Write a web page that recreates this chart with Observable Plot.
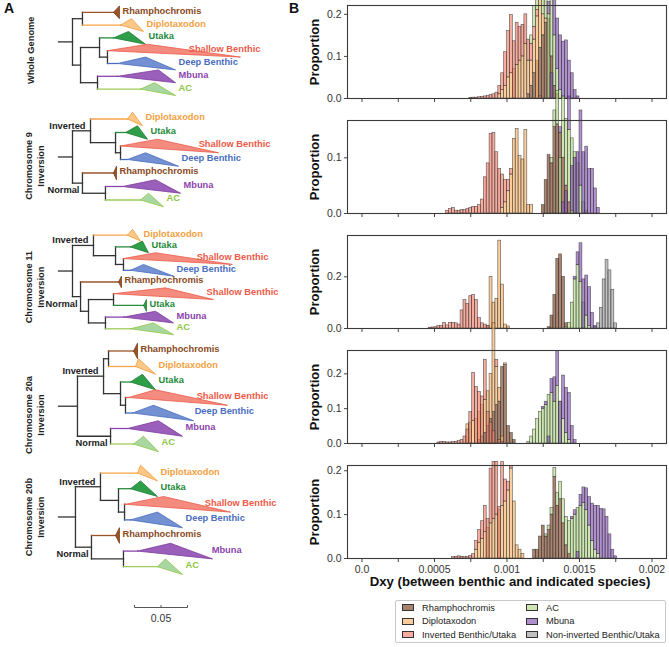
<!DOCTYPE html>
<html><head><meta charset="utf-8">
<script src="https://cdn.jsdelivr.net/npm/d3@7"></script>
<script src="https://cdn.jsdelivr.net/npm/@observablehq/plot@0.6"></script>
<style>
body{margin:0;background:#fff;}
#root{position:relative;width:669px;height:647px;overflow:hidden;background:#fff;font-family:'Liberation Sans',Arial,Helvetica,sans-serif;}
#root svg{max-width:none;overflow:visible;}
.legend{position:absolute;left:395px;top:600px;width:271px;height:43px;border:1px solid #c9c9c9;border-radius:2px;box-sizing:border-box;display:grid;grid-template-rows:repeat(3,13.5px);grid-auto-flow:column;grid-template-columns:124px 142px;padding:0 0 0 6px;font-size:9.3px;color:#222;}
.legend div{display:flex;align-items:center;white-space:nowrap;}
.legend span.sw{display:inline-block;width:10px;height:5px;border:1px solid #333;margin-right:8px;}
</style>
</head><body>
<div id="root"></div>
<script>
// ---------------- DATA ----------------
const SERIES = ["Rhamphochromis", "Diplotaxodon", "Inverted Benthic/Utaka", "AC", "Mbuna", "Non-inverted Benthic/Utaka"];
const SERIES_COLORS = ["#7b4526", "#f7b36b", "#f07f6c", "#b3d98a", "#8657b3", "#9f9f9f"];
const BIN = 0.00002;
const PANEL_NAMES = ["Whole Genome", "Chromosome 9\nInversion", "Chromosome 11\nInversion", "Chromosome 20a\nInversion", "Chromosome 20b\nInversion"];
const X_TICKS = [0, 0.00025, 0.0005, 0.00075, 0.001, 0.00125, 0.0015, 0.00175, 0.002];
const X_LABELS = [0, 0.0005, 0.001, 0.0015, 0.002];

// Histograms: first bin left edge + proportions per bin
const wgRham    = {from: 0.00114, p: [0.01,0.03,0.06,0.09,0.12,0.15,0.18,0.19,0.1,0.03,0.01]};
const wgDiplo   = {from: 0.00094, p: [0.01,0.02,0.03,0.05,0.06,0.07,0.08,0.09,0.1,0.13,0.08,0.06,0.08,0.195,0.19,0.05,0.01]};
const wgInv     = {from: 0.00074, p: [0.001,0.002,0.002,0.003,0.004,0.005,0.006,0.008,0.01,0.014,0.02,0.04,0.08,0.11,0.138,0.136,0.1,0.08,0.075,0.07,0.05,0.04,0.03,0.015,0.005]};
const wgAC      = {from: 0.00116, p: [0.02,0.05,0.08,0.1,0.13,0.16,0.2,0.21,0.12,0.06,0.02,0.005]};
const wgMbuna   = {from: 0.00126, p: [0.01,0.03,0.06,0.09,0.12,0.13,0.135,0.138,0.09,0.06,0.02,0.005]};

const c9Rham    = {from: 0.00124, p: [0.015,0.06,0.105,0.09,0.155,0.16,0.145,0.1,0.05,0.02,0.005]};
const c9Diplo   = {from: 0.00096, p: [0.01,0.02,0.04,0.07,0.134,0.152,0.103,0.097,0.15,0.015,0.015]};
const c9Inv     = {from: 0.00058, p: [0.005,0.008,0.01,0.005,0.005,0.006,0.006,0.008,0.01,0.012,0.012,0.015,0.025,0.065,0.09,0.143,0.145,0.11,0.08,0.06,0.04,0.02,0.01]};
const c9AC      = {from: 0.0013,  p: [0.01,0.03,0.06,0.1,0.11,0.12,0.13,0.135,0.11,0.09,0.05,0.02,0.005]};
const c9Mbuna   = {from: 0.00136, p: [0.01,0.02,0.04,0.06,0.08,0.1,0.11,0.135,0.11,0.12,0.08,0.08,0.045,0.01]};

const c11Rham   = {from: 0.00128, p: [0.005,0.05,0.13,0.27,0.287,0.2,0.02]};
const c11Diplo  = {from: 0.00086, p: [0.01,0.2,0.1,0.115,0.34,0.17,0.015,0.008]};
const c11Inv    = {from: 0.00046, p: [0.003,0.004,0.005,0.009,0.01,0.022,0.012,0.022,0.022,0.02,0.015,0.07,0.11,0.095,0.125,0.13,0.11,0.04,0.02,0.015,0.01]};
const c11AC     = {from: 0.0014,  p: [0.005,0.022,0.1,0.19,0.245,0.18,0.1,0.05,0.01]};
const c11Mbuna  = {from: 0.00146, p: [0.01,0.05,0.15,0.19,0.155,0.15,0.06,0.01]};
const c11NonInv = {from: 0.0016,  p: [0.005,0.02,0.08,0.19,0.265,0.225,0.15,0.02]};

const c20aRham  = {from: 0.0008,  p: [0.01,0.02,0.03,0.05,0.07,0.09,0.11,0.12,0.22,0.225,0.05,0.03,0.01]};
const c20aDiplo = {from: 0.00072, p: [0.055,0.06,0.065,0.07,0.08,0.09,0.095,0.1,0.13,0.255,0.11,0.04,0.02,0.005]};
const c20aInv   = {from: 0.00052, p: [0.003,0.005,0.004,0.003,0.003,0.004,0.005,0.007,0.01,0.02,0.04,0.09,0.138,0.162,0.148,0.135,0.115,0.09,0.06,0.035,0.02,0.01,0.005]};
const c20aAC    = {from: 0.00114, p: [0.005,0.02,0.04,0.07,0.09,0.1,0.11,0.14,0.145,0.12,0.165,0.12,0.07,0.03,0.01]};
const c20aMbuna = {from: 0.00124, p: [0.005,0.01,0.02,0.04,0.07,0.1,0.12,0.125,0.13,0.135,0.05,0.01]};

const c20bRham  = {from: 0.00118, p: [0.02,0.02,0.05,0.075,0.05,0.065,0.1,0.186,0.12,0.135,0.08,0.03,0.01]};
const c20bDiplo = {from: 0.00078, p: [0.02,0.035,0.045,0.06,0.07,0.08,0.09,0.1,0.11,0.12,0.13,0.155,0.205,0.13,0.03,0.02,0.01]};
const c20bInv   = {from: 0.00062, p: [0.003,0.004,0.005,0.004,0.003,0.004,0.006,0.01,0.02,0.03,0.04,0.06,0.09,0.125,0.13,0.12,0.117,0.1,0.05,0.02,0.005]};
const c20bAC    = {from: 0.00126, p: [0.005,0.01,0.015,0.02,0.03,0.04,0.055,0.065,0.075,0.09,0.1,0.115,0.12,0.127,0.11,0.075,0.04,0.02,0.01]};
const c20bMbuna = {from: 0.00144, p: [0.005,0.01,0.015,0.025,0.035,0.05,0.065,0.085,0.1,0.11,0.113,0.112,0.095,0.055,0.02,0.005]};

const Y_MAX   = [0.221, 0.167, 0.36, 0.267, 0.212];
const Y_TICKS = [[0, 0.1, 0.2], [0, 0.1], [0, 0.2], [0, 0.1, 0.2], [0, 0.1, 0.2]];

// Trees: internal node = [depth, children, label?]; collapsed clade = [name, apex depth, shortest tip depth, longest tip depth]
const treeWholeGenome = [0.0132, [
  [0.0226, [["Rhamphochromis", 0.0519, 0.0575, 0.0575], ["Diplotaxodon", 0.0585, 0.0689, 0.0802]]],
  [0.0208, [
    [0.0387, [["Utaka", 0.0519, 0.066, 0.0821],
              [0.0462, [["Shallow Benthic", 0.0462, 0.084, 0.1717], ["Deep Benthic", 0.0557, 0.0821, 0.1104]]]]],
    [0.0368, [["Mbuna", 0.0557, 0.0943, 0.1104], ["AC", 0.0774, 0.0906, 0.1104]]]
  ]]
]];
const treeChr9 = [0.0132, [
  [0.0302, [["Diplotaxodon", 0.0651, 0.0698, 0.0792],
            [0.0538, [["Utaka", 0.0632, 0.0745, 0.084],
                      [0.0585, [["Shallow Benthic", 0.0585, 0.0934, 0.151], ["Deep Benthic", 0.0651, 0.0821, 0.1132]]]]]], "Inverted"],
  [0.0226, [["Rhamphochromis", 0.0519, 0.0547, 0.0547],
            [0.0443, [["Mbuna", 0.0604, 0.0915, 0.1151], ["AC", 0.0774, 0.0849, 0.0991]]]], "Normal"]
]];
const treeChr11 = [0.0132, [
  [0.033, [["Diplotaxodon", 0.0651, 0.0698, 0.0774],
           [0.0538, [["Utaka", 0.0679, 0.0792, 0.0849],
                     [0.0613, [["Shallow Benthic", 0.0613, 0.0915, 0.164], ["Deep Benthic", 0.0679, 0.0802, 0.1085]]]]]], "Inverted"],
  [0.0208, [["Rhamphochromis", 0.0566, 0.0594, 0.0594],
            [0.0283, [[0.0519, [["Shallow Benthic", 0.0519, 0.1009, 0.1462], ["Utaka", 0.0802, 0.083, 0.083]]],
                      [0.0443, [["Mbuna", 0.0613, 0.0915, 0.1085], ["AC", 0.0679, 0.0896, 0.1085]]]]]], "Normal"]
]];
const treeChr20a = [0.0179, [
  [0.0425, [[0.0472, [["Rhamphochromis", 0.0708, 0.0745, 0.0745], ["Diplotaxodon", 0.0726, 0.0755, 0.0915]]],
            [0.0585, [["Utaka", 0.0679, 0.0792, 0.0915],
                      [0.0632, [["Shallow Benthic", 0.066, 0.0915, 0.1594], ["Deep Benthic", 0.0698, 0.0896, 0.1274]]]]]], "Inverted"],
  [0.0491, [["Mbuna", 0.0651, 0.0943, 0.117], ["AC", 0.0708, 0.0802, 0.0943]], "Normal"]
]];
const treeChr20b = [0.016, [
  [0.0396, [["Diplotaxodon", 0.0745, 0.0774, 0.0934],
            [0.0566, [["Utaka", 0.0679, 0.0774, 0.0934],
                      [0.0623, [["Shallow Benthic", 0.0632, 0.0991, 0.1623], ["Deep Benthic", 0.0679, 0.0934, 0.117]]]]]], "Inverted"],
  [0.0311, [["Rhamphochromis", 0.0538, 0.0575, 0.0575],
            [0.0613, [["Mbuna", 0.0745, 0.1057, 0.1453], ["AC", 0.0934, 0.1009, 0.117]]]], "Normal"]
]];
const SCALE_BAR_FROM = 0.0717, SCALE_BAR_LENGTH = 0.05;

// ---------------- STYLE / LAYOUT ----------------
const FONT = "'Liberation Sans', Arial, Helvetica, sans-serif";
const DARK = "#333333";
const CLADE = {
  "Rhamphochromis":  {text: "#8a4a1e", line: "#9a5328", fill: "#9a5328", stroke: "#7a3e18"},
  "Diplotaxodon":    {text: "#f4a040", line: "#f6a54a", fill: "#fcc888", stroke: "#f29b38"},
  "Utaka":           {text: "#1f8a3a", line: "#2a8c3e", fill: "#2f9e49", stroke: "#1f7a33"},
  "Shallow Benthic": {text: "#ee5a48", line: "#ef5b4c", fill: "#f48b7f", stroke: "#ee5a48"},
  "Deep Benthic":    {text: "#4a6dc0", line: "#4a6dc0", fill: "#7390d2", stroke: "#4a6dc0"},
  "Mbuna":           {text: "#8b45ad", line: "#8b45ad", fill: "#9a5fba", stroke: "#7c3b9c"},
  "AC":              {text: "#8ec63f", line: "#9ccc5a", fill: "#a9d7a3", stroke: "#8ec63f"}
};
const TREES = [treeWholeGenome, treeChr9, treeChr11, treeChr20a, treeChr20b];
const TREE_LAYOUT = [
  {first: 12, spacing: 12.8, labelY: 50},
  {first: 118, spacing: 13.5, labelY: 165},
  {first: 235, spacing: 11.7, labelY: 287},
  {first: 350, spacing: 15.5, labelY: 414},
  {first: 473, spacing: 15.6, labelY: 517}
];
const HIST_TOP = [0, 115, 230, 345, 460];

const root = document.getElementById("root");
function place(el, left, top) {
  const d = document.createElement("div");
  d.style.position = "absolute"; d.style.left = left + "px"; d.style.top = top + "px";
  d.appendChild(el); root.appendChild(d); return d;
}
const baseStyle = {background: "transparent", overflow: "visible", fontFamily: FONT, color: "#333"};

function layoutTree(tree) {
  let row = 0;
  const segs = [], tris = [], tips = [], nodes = [];
  function walk(node) {
    if (typeof node[0] === "string") {
      const [name, apex, short, long] = node;
      const y = row++;
      const c = CLADE[name];
      tris.push({c, pts: [{x: apex, y}, {x: short, y: y - 0.5}, {x: long, y: y + 0.5}, {x: apex, y}]});
      tips.push({name, x: Math.min(long, short + 0.036), y, color: c.text});
      return {x: apex, y, color: c.line};
    }
    const [depth, kids, label] = node;
    const res = kids.map(walk);
    const y = (res[0].y + res[res.length - 1].y) / 2;
    segs.push({x1: depth, y1: res[0].y, x2: depth, y2: res[res.length - 1].y, color: DARK});
    for (const r of res) segs.push({x1: depth, y1: r.y, x2: r.x, y2: r.y, color: r.color});
    if (label) nodes.push({label, x: depth, y});
    return {x: depth, y, color: DARK};
  }
  const r = walk(tree);
  segs.push({x1: 0, y1: r.y, x2: r.x, y2: r.y, color: DARK});
  return {segs, tris, tips, nodes, n: row};
}

TREES.forEach((tree, i) => {
  const L = TREE_LAYOUT[i];
  const {segs, tris, tips, nodes, n} = layoutTree(tree);
  const h = (n + 1) * L.spacing;
  const top = L.first - L.spacing;
  const svg = Plot.plot({
    width: 290, height: h, marginLeft: 58, marginRight: 20, marginTop: 0, marginBottom: 0,
    x: {domain: [0, 0.2], axis: null},
    y: {domain: [-1, n], range: [0, h], axis: null},
    style: baseStyle,
    marks: [
      Plot.link(segs, {x1: "x1", y1: "y1", x2: "x2", y2: "y2", stroke: d => d.color, strokeWidth: 1.3, strokeLinecap: "square"}),
      ...tris.map(t => Plot.line(t.pts, {x: "x", y: "y", fill: t.c.fill, stroke: t.c.stroke, strokeWidth: 0.8, strokeLinejoin: "miter", curve: "linear"})),
      Plot.text(tips, {x: "x", y: "y", text: "name", fill: d => d.color, textAnchor: "start", dx: 3, dy: -1.5, fontSize: 9.3, fontWeight: "bold"}),
      Plot.text(nodes.filter(d => d.label === "Inverted"), {x: "x", y: "y", text: "label", textAnchor: "end", dx: -5, dy: -5, fontSize: 9.3, fontWeight: "bold", fill: "#222"}),
      Plot.text(nodes.filter(d => d.label === "Normal"), {x: "x", y: "y", text: "label", textAnchor: "end", dx: -3, dy: 7, fontSize: 9.3, fontWeight: "bold", fill: "#222"}),
      Plot.text([PANEL_NAMES[i]], {frameAnchor: "left", textAnchor: "middle", lineAnchor: "middle", dx: i === 0 ? -28 : -24, dy: L.labelY - top - h / 2, rotate: -90, fontSize: 9.3, fontWeight: "bold", fill: "#222", lineHeight: 1.3})
    ]
  });
  place(svg, 0, top);
});

// scale bar
const scaleSvg = Plot.plot({
  width: 290, height: 30, marginLeft: 58, marginRight: 20, marginTop: 0, marginBottom: 0,
  x: {domain: [0, 0.2], axis: null},
  y: {domain: [0, 30], range: [0, 30], axis: null},
  style: baseStyle,
  marks: [
    Plot.link([SCALE_BAR_FROM], {x1: d => d, x2: d => d + SCALE_BAR_LENGTH, y1: 12, y2: 12, stroke: "#555", strokeWidth: 1}),
    Plot.link([SCALE_BAR_FROM, SCALE_BAR_FROM + SCALE_BAR_LENGTH / 2, SCALE_BAR_FROM + SCALE_BAR_LENGTH], {x1: d => d, x2: d => d, y1: 9.5, y2: 12, stroke: "#555", strokeWidth: 1}),
    Plot.text([SCALE_BAR_LENGTH], {x: d => SCALE_BAR_FROM + d / 2, y: 23, text: d => String(d), fontSize: 10.5, fill: "#333"})
  ]
});
place(scaleSvg, 0, 595);

// histograms
const PANELS = [
  [wgRham, wgDiplo, wgInv, wgAC, wgMbuna, null],
  [c9Rham, c9Diplo, c9Inv, c9AC, c9Mbuna, null],
  [c11Rham, c11Diplo, c11Inv, c11AC, c11Mbuna, c11NonInv],
  [c20aRham, c20aDiplo, c20aInv, c20aAC, c20aMbuna, null],
  [c20bRham, c20bDiplo, c20bInv, c20bAC, c20bMbuna, null]
];
const fmtX = d => X_LABELS.some(v => Math.abs(v - d) < 1e-9) ? (d === 0 ? "0.0" : String(+d.toFixed(4))) : "";

PANELS.forEach((hists, i) => {
  const last = i === PANELS.length - 1;
  const data = [];
  hists.forEach((hst, s) => {
    if (!hst) return;
    hst.p.forEach((v, j) => data.push({name: SERIES[s], x1: hst.from + j * BIN, x2: hst.from + (j + 1) * BIN, y: v}));
  });
  const svg = Plot.plot({
    width: 399, height: last ? 134 : 106,
    marginLeft: 77, marginRight: 3, marginTop: 5, marginBottom: last ? 36 : 8,
    x: {domain: [-0.0001, 0.0021]},
    y: {domain: [0, Y_MAX[i]]},
    color: {domain: SERIES, range: SERIES_COLORS},
    style: {...baseStyle, fontSize: "10.5px"},
    marks: [
      Plot.rectY(data, {x1: "x1", x2: "x2", y: "y", fill: "name", fillOpacity: 0.66, stroke: "#2a2a2a", strokeWidth: 0.6, strokeOpacity: 0.75}),
      Plot.axisX({ticks: X_TICKS, tickSize: 4, tickPadding: 3, tickFormat: last ? fmtX : () => "", label: null, stroke: "#444"}),
      Plot.axisY({ticks: Y_TICKS[i], tickSize: 3, tickPadding: 3, tickFormat: d3.format(".1f"), label: null, stroke: "#444"}),
      Plot.frame({stroke: "#3a3a3a", strokeWidth: 1.1}),
      Plot.text(["Proportion"], {frameAnchor: "left", textAnchor: "middle", dx: -33, rotate: -90, fontSize: 13, fontWeight: "bold", fill: "#111"}),
      last ? Plot.text(["Dxy (between benthic and indicated species)"], {frameAnchor: "bottom", textAnchor: "middle", dx: 3, dy: 27, fontSize: 13.2, fontWeight: "bold", fill: "#111"}) : null
    ]
  });
  place(svg, 270, HIST_TOP[i]);
});

// panel letters
function letter(t, x, y) {
  const d = document.createElement("div");
  d.textContent = t;
  d.style.cssText = "position:absolute;left:" + x + "px;top:" + y + "px;font:bold 14px " + FONT + ";color:#111;line-height:14px;";
  root.appendChild(d);
}
letter("A", 4, 1);
letter("B", 289, 1);

// legend
const leg = document.createElement("div");
leg.className = "legend";
SERIES.forEach((s, i) => {
  const item = document.createElement("div");
  const sw = document.createElement("span");
  sw.className = "sw";
  const c = d3.color(SERIES_COLORS[i]); c.opacity = 0.66;
  sw.style.background = c.formatRgb();
  item.appendChild(sw);
  item.appendChild(document.createTextNode(s));
  leg.appendChild(item);
});
root.appendChild(leg);
</script>
</body></html>
